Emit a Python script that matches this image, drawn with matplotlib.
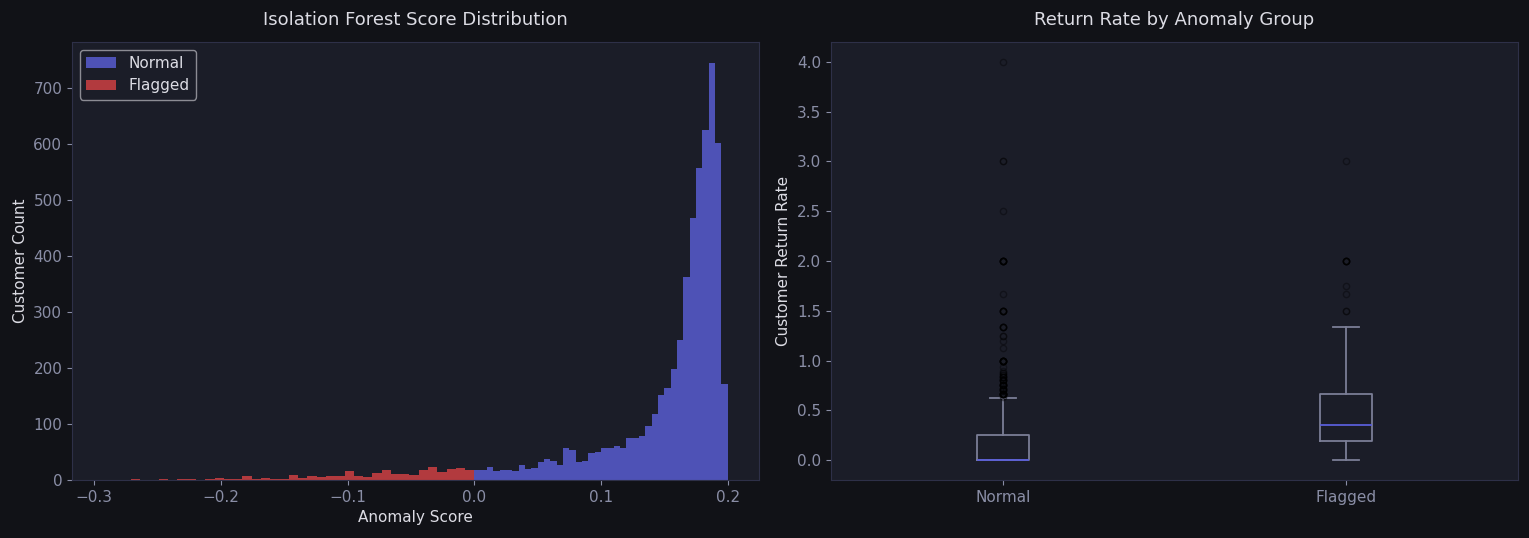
import numpy as np
import matplotlib.pyplot as plt

## Histogram data (counts per bin)
normal_edges = np.linspace(0.0, 0.2, 41)
normal_counts = [17, 17, 23, 16, 17, 17, 16, 27, 20, 21,
                 32, 37, 34, 27, 57, 54, 32, 34, 48, 50,
                 57, 57, 61, 57, 75, 75, 79, 96, 118, 152,
                 164, 198, 250, 362, 468, 557, 625, 745, 602, 171]

flagged_edges = np.linspace(-0.293, 0.0, 41)
flagged_counts = [0, 0, 0, 1, 0, 0, 1, 0, 1, 1,
                  0, 1, 3, 1, 1, 7, 1, 3, 1, 1,
                  9, 3, 7, 5, 7, 7, 16, 7, 5, 12,
                  18, 10, 10, 9, 18, 23, 14, 19, 21, 18]

## Box plot data
groups = ['Normal', 'Flagged']
q1 = [0.0, 0.1875]
med = [0.0, 0.35]
q3 = [0.25, 0.667]
whislo = [0.0, 0.0]
whishi = [0.625, 1.333]
normal_fliers = ([4.0, 3.0, 3.0, 2.5] + [2.0]*8 + [1.667] + [1.5]*6 + [1.333]*5
                 + [1.25]*2 + [1.2, 1.125] + [1.0]*10 + [0.933, 0.9, 0.875, 0.875]
                 + [0.857]*2 + [0.833]*4 + [0.8]*6 + [0.778] + [0.75]*8 + [0.727]
                 + [0.714]*3 + [0.7]*3 + [0.692] + [0.667]*10 + [0.643, 0.636])
flagged_fliers = [3.0] + [2.0]*6 + [1.75, 1.667, 1.5, 1.5]

## Colours
fig_bg = '#111217'
ax_bg = '#1b1d28'
spine_col = '#2e3048'
tick_col = '#8a8ea6'
text_col = '#dcdce4'
normal_col = '#4e52b6'
flagged_col = '#b23a3e'
box_col = '#7b7e96'
median_col = '#5a5ed8'

fig = plt.figure(figsize=(15.29, 5.38), dpi=100, facecolor=fig_bg)
ax1 = fig.add_axes([0.0471, 0.1078, 0.4493, 0.8141])
ax2 = fig.add_axes([0.5435, 0.1078, 0.4493, 0.8141])

for ax in (ax1, ax2):
    ax.set_facecolor(ax_bg)
    for sp in ax.spines.values():
        sp.set_color(spine_col)
    ax.tick_params(colors=tick_col, labelsize=11, labelcolor=tick_col)

## Left: score histogram
centers_n = (normal_edges[:-1] + normal_edges[1:]) / 2
centers_f = (flagged_edges[:-1] + flagged_edges[1:]) / 2
ax1.hist(centers_n, bins=normal_edges, weights=normal_counts, color=normal_col, label='Normal')
ax1.hist(centers_f, bins=flagged_edges, weights=flagged_counts, color=flagged_col, label='Flagged')
ax1.set_title('Isolation Forest Score Distribution', color=text_col, fontsize=13, pad=12)
ax1.set_xlabel('Anomaly Score', color=text_col, fontsize=11)
ax1.set_ylabel('Customer Count', color=text_col, fontsize=11)
ax1.set_xticks([-0.3, -0.2, -0.1, 0.0, 0.1, 0.2])
leg = ax1.legend(loc='upper left', fontsize=11, facecolor=ax_bg, edgecolor='#8c8c94',
                 labelcolor=text_col, framealpha=1)

## Right: return rate box plot
stats = []
fliers = [normal_fliers, flagged_fliers]
for i in range(len(groups)):
    stats.append({'label': groups[i], 'q1': q1[i], 'med': med[i], 'q3': q3[i],
                  'whislo': whislo[i], 'whishi': whishi[i], 'fliers': fliers[i]})
ax2.bxp(stats, positions=[1, 2], widths=0.15,
        boxprops=dict(color=box_col, linewidth=1.3),
        whiskerprops=dict(color=box_col, linewidth=1.3),
        capprops=dict(color=box_col, linewidth=1.3),
        medianprops=dict(color=median_col, linewidth=1.3),
        flierprops=dict(marker='o', markerfacecolor='none', markeredgecolor='black',
                        markersize=4.5, alpha=0.35))
ax2.set_title('Return Rate by Anomaly Group', color=text_col, fontsize=13, pad=12)
ax2.set_ylabel('Customer Return Rate', color=text_col, fontsize=11)
ax2.set_xlim(0.5, 2.5)
ax2.set_ylim(-0.2, 4.2)
ax2.set_yticks(np.arange(0, 4.01, 0.5))

plt.savefig('out.png', dpi=100, facecolor=fig_bg)
